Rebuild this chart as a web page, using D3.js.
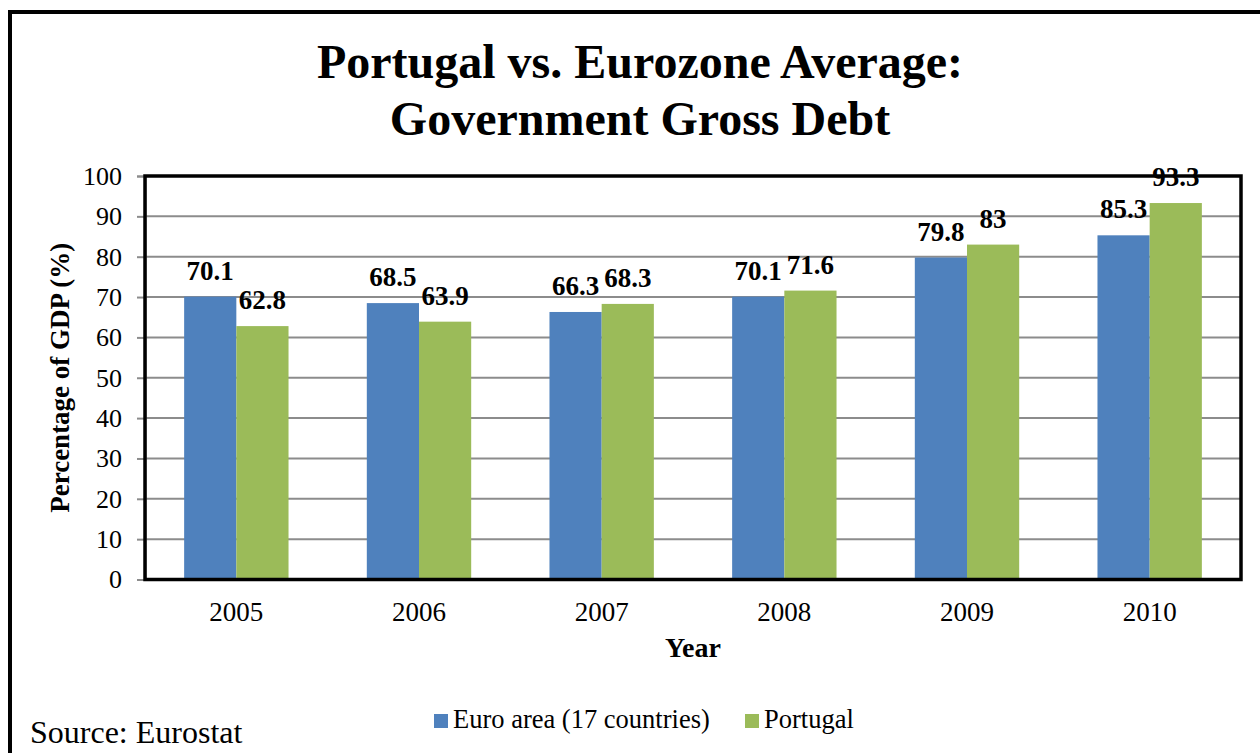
<!DOCTYPE html>
<html>
<head>
<meta charset="utf-8">
<script src="https://cdn.jsdelivr.net/npm/d3@7"></script>
<style>
  html, body { margin: 0; padding: 0; background: #fff; overflow: hidden; }
  svg { display: block; }
  text { font-family: "Liberation Serif", "Times New Roman", serif; fill: #000; }
</style>
</head>
<body>
<svg id="chart" width="1260" height="753"></svg>
<script>
// Government gross debt, % of GDP
const years = ["2005", "2006", "2007", "2008", "2009", "2010"];
const seriesNames = ["Euro area (17 countries)", "Portugal"];
const euroArea = [70.1, 68.5, 66.3, 70.1, 79.8, 85.3];
const portugal = [62.8, 63.9, 68.3, 71.6, 83, 93.3];
const yTicks = [0, 10, 20, 30, 40, 50, 60, 70, 80, 90, 100];
const colors = ["#4F81BD", "#9BBB59"];

const seriesValues = [euroArea, portugal];
const rows = years.map((y, i) => ({
  year: y,
  values: seriesNames.map((s, j) => ({ series: s, value: seriesValues[j][i], color: colors[j] }))
}));

const svg = d3.select("#chart");

// outer frame
svg.append("rect")
  .attr("x", 10).attr("y", 12)
  .attr("width", 1300).attr("height", 800)
  .attr("fill", "none").attr("stroke", "#000").attr("stroke-width", 4);

const plot = { left: 145, right: 1241, top: 176, bottom: 579.5 };

const x0 = d3.scaleBand().domain(years).range([plot.left, plot.right]).padding(0);
const x1 = d3.scaleBand().domain(seriesNames).range([0, x0.bandwidth()])
  .paddingInner(0).paddingOuter(0.75);
const y = d3.scaleLinear().domain([0, 100]).range([plot.bottom, plot.top]);

// gridlines
svg.append("g")
  .selectAll("line")
  .data(yTicks.filter(t => t > 0 && t < 100))
  .join("line")
  .attr("x1", plot.left).attr("x2", plot.right)
  .attr("y1", d => y(d)).attr("y2", d => y(d))
  .attr("stroke", "#8c8c8c").attr("stroke-width", 2);

// y axis with ticks on the left
const yAxis = d3.axisLeft(y).tickValues(yTicks).tickSize(8).tickPadding(15);
const yg = svg.append("g").attr("transform", `translate(${plot.left},0)`).call(yAxis);
yg.select(".domain").attr("stroke", "#8c8c8c").attr("stroke-width", 2);
yg.selectAll(".tick line").attr("stroke", "#8c8c8c").attr("stroke-width", 2);
yg.selectAll(".tick text")
  .attr("font-family", "Liberation Serif, Times New Roman, serif")
  .attr("font-size", 26).attr("fill", "#000");

// bars
const groups = svg.append("g").selectAll("g")
  .data(rows)
  .join("g")
  .attr("transform", d => `translate(${x0(d.year)},0)`);

groups.selectAll("rect")
  .data(d => d.values)
  .join("rect")
  .attr("x", d => x1(d.series))
  .attr("width", x1.bandwidth())
  .attr("y", d => y(d.value))
  .attr("height", d => plot.bottom - y(d.value))
  .attr("fill", d => d.color);

// plot frame
svg.append("rect")
  .attr("x", plot.left).attr("y", plot.top)
  .attr("width", plot.right - plot.left).attr("height", plot.bottom - plot.top)
  .attr("fill", "none").attr("stroke", "#000").attr("stroke-width", 3.5);

// value labels
groups.selectAll("text.val")
  .data(d => d.values)
  .join("text")
  .attr("class", "val")
  .attr("x", d => x1(d.series) + x1.bandwidth() / 2)
  .attr("y", d => y(d.value) - 17)
  .attr("text-anchor", "middle")
  .attr("font-weight", "bold")
  .attr("font-size", 27)
  .text(d => d.value);

// x axis category labels
const xAxis = d3.axisBottom(x0).tickSize(0).tickPadding(22);
const xg = svg.append("g").attr("transform", `translate(0,${plot.bottom})`).call(xAxis);
xg.select(".domain").remove();
xg.selectAll(".tick text")
  .attr("font-family", "Liberation Serif, Times New Roman, serif")
  .attr("font-size", 27).attr("fill", "#000");

// title
const title = svg.append("text")
  .attr("text-anchor", "middle")
  .attr("font-weight", "bold")
  .attr("font-size", 48);
title.append("tspan").attr("x", 640).attr("y", 78).text("Portugal vs. Eurozone Average:");
title.append("tspan").attr("x", 640).attr("y", 135).text("Government Gross Debt");

// axis titles
svg.append("text")
  .attr("transform", `translate(69,${(plot.top + plot.bottom) / 2}) rotate(-90)`)
  .attr("text-anchor", "middle")
  .attr("font-weight", "bold")
  .attr("font-size", 27)
  .text("Percentage of GDP (%)");

svg.append("text")
  .attr("x", (plot.left + plot.right) / 2).attr("y", 657)
  .attr("text-anchor", "middle")
  .attr("font-weight", "bold")
  .attr("font-size", 28)
  .text("Year");

// legend
const legendPos = [434, 745];
const legend = svg.append("g").selectAll("g")
  .data(seriesNames)
  .join("g")
  .attr("transform", (d, i) => `translate(${legendPos[i]},714)`);
legend.append("rect").attr("width", 14).attr("height", 14)
  .attr("fill", (d, i) => colors[i]);
legend.append("text").attr("x", 19).attr("y", 14)
  .attr("font-size", 26.5).text(d => d);

// source note
svg.append("text")
  .attr("x", 30).attr("y", 743)
  .attr("font-size", 32)
  .text("Source: Eurostat");
</script>
</body>
</html>
